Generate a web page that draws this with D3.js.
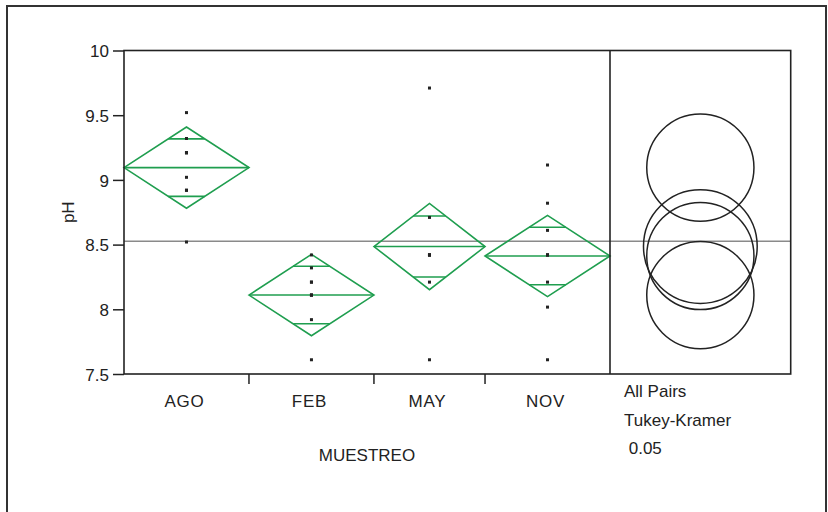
<!DOCTYPE html>
<html>
<head>
<meta charset="utf-8">
<script src="https://cdn.jsdelivr.net/npm/d3@7"></script>
<style>
  html, body { margin: 0; padding: 0; background: #fff; }
  svg { display: block; font-family: "Liberation Sans", Arial, sans-serif; }
</style>
</head>
<body>
<svg id="chart" width="828" height="512"></svg>
<script>
// pH by sampling month (one-way analysis with mean diamonds and Tukey-Kramer circles)
const months = ["AGO", "FEB", "MAY", "NOV"];
const counts = [9, 9, 8, 9];
const groupMeans = [9.095, 8.11, 8.485, 8.412];
const grandMean = 8.526;
const rmse = 0.462;          // pooled standard deviation
const tQuantile = 2.04;      // t(0.975, df = 31)
const tukeyQuantile = 2.69;  // q*(0.05) for all-pairs Tukey-Kramer

const obsAGO = [9.52, 9.32, 9.21, 9.21, 9.21, 9.02, 8.92, 8.92, 8.52];
const obsFEB = [8.42, 8.32, 8.21, 8.21, 8.11, 8.11, 8.11, 7.92, 7.61];
const obsMAY = [9.71, 8.71, 8.42, 8.42, 8.42, 8.42, 8.21, 7.61];
const obsNOV = [9.115, 8.82, 8.61, 8.42, 8.42, 8.42, 8.21, 8.017, 7.61];
const observations = [obsAGO, obsFEB, obsMAY, obsNOV];

const yTicks = [7.5, 8, 8.5, 9, 9.5, 10];
const yTickLabels = ["7.5", "8", "8.5", "9", "9.5", "10"];
const xTitle = "MUESTREO";
const yTitle = "pH";
const panelLines = ["All Pairs", "Tukey-Kramer", " 0.05"];

const green = "#1f9e4f";
const ink = "#222";

const svg = d3.select("#chart");

// layout
const plotLeft = 124, plotTop = 50.5, mainRight = 610, panelRight = 790.7, plotBottom = 374;

const y = d3.scaleLinear().domain([7.5, 10]).range([plotBottom, plotTop]);

// x positions: group widths proportional to sample size
const cum = [0];
counts.forEach((n, i) => cum.push(cum[i] + n));
const x = d3.scaleLinear().domain([0, d3.sum(counts)]).range([plotLeft, mainRight]);

const groups = months.map((m, i) => ({
  name: m,
  n: counts[i],
  mean: groupMeans[i],
  x0: x(cum[i]),
  x1: x(cum[i + 1]),
  xc: (x(cum[i]) + x(cum[i + 1])) / 2,
  se: rmse / Math.sqrt(counts[i]),
  obs: observations[i]
}));

// outer frame
svg.append("rect")
  .attr("x", 7).attr("y", 6).attr("width", 819).attr("height", 520)
  .attr("fill", "none").attr("stroke", "#333").attr("stroke-width", 2);

// grand mean line across both panels
svg.append("line")
  .attr("x1", plotLeft).attr("x2", panelRight)
  .attr("y1", y(grandMean)).attr("y2", y(grandMean))
  .attr("stroke", "#8a8a8a").attr("stroke-width", 1.5);

// mean diamonds
const dg = svg.append("g").attr("fill", "none").attr("stroke", green).attr("stroke-width", 1.6);
groups.forEach(g => {
  const half = tQuantile * g.se;
  const ym = y(g.mean), yt = y(g.mean + half), yb = y(g.mean - half);
  dg.append("path")
    .attr("d", `M${g.x0},${ym}L${g.xc},${yt}L${g.x1},${ym}L${g.xc},${yb}Z`);
  dg.append("line").attr("x1", g.x0).attr("x2", g.x1).attr("y1", ym).attr("y2", ym);
  // overlap marks at mean ± half/√2
  const w = (g.x1 - g.x0) / 2 * (1 - 1 / Math.SQRT2);
  [1, -1].forEach(s => {
    const yy = y(g.mean + s * half / Math.SQRT2);
    dg.append("line").attr("x1", g.xc - w).attr("x2", g.xc + w).attr("y1", yy).attr("y2", yy);
  });
});

// observations
const pg = svg.append("g").attr("fill", ink);
groups.forEach(g => {
  pg.selectAll(null).data(g.obs).enter().append("rect")
    .attr("x", g.xc - 1.5).attr("y", d => y(d) - 1.5)
    .attr("width", 3).attr("height", 3);
});

// comparison circles
const cx = (mainRight + panelRight) / 2;
const unit = y(0) - y(1);
svg.append("g").selectAll("circle").data(groups).enter().append("circle")
  .attr("cx", cx).attr("cy", d => y(d.mean))
  .attr("r", d => tukeyQuantile * d.se * unit)
  .attr("fill", "none").attr("stroke", ink).attr("stroke-width", 1.5);

// plot frame and divider
svg.append("rect")
  .attr("x", plotLeft).attr("y", plotTop).attr("width", panelRight - plotLeft).attr("height", plotBottom - plotTop)
  .attr("fill", "none").attr("stroke", ink).attr("stroke-width", 1.6);
svg.append("line")
  .attr("x1", mainRight).attr("x2", mainRight).attr("y1", plotTop).attr("y2", plotBottom)
  .attr("stroke", ink).attr("stroke-width", 1.6);

// y axis
const yAxis = d3.axisLeft(y).tickValues(yTicks)
  .tickFormat((d, i) => yTickLabels[i]).tickSize(11).tickPadding(4);
const ya = svg.append("g").attr("transform", `translate(${plotLeft},0)`).call(yAxis);
ya.select(".domain").remove();
ya.selectAll("line").attr("stroke", ink).attr("stroke-width", 1.5);
ya.selectAll("text").attr("fill", "#222").style("font-size", "17px")
  .style("font-family", '"Liberation Sans", Arial, sans-serif').attr("dy", "0.36em");

// x axis: ticks at group boundaries
const xg = svg.append("g");
groups.slice(1).forEach(g => {
  xg.append("line").attr("x1", g.x0).attr("x2", g.x0).attr("y1", plotBottom).attr("y2", plotBottom + 10)
    .attr("stroke", ink).attr("stroke-width", 1.5);
});
xg.selectAll("text").data(groups).enter().append("text")
  .attr("x", d => d.xc - 2).attr("y", 407)
  .attr("text-anchor", "middle")
  .style("font-size", "17px").style("letter-spacing", "0.8px")
  .attr("fill", "#222").text(d => d.name);

// axis titles
svg.append("text")
  .attr("x", (plotLeft + mainRight) / 2).attr("y", 461)
  .attr("text-anchor", "middle").style("font-size", "17px").attr("fill", "#222")
  .text(xTitle);
svg.append("text")
  .attr("transform", `translate(74,${(plotTop + plotBottom) / 2}) rotate(-90)`)
  .attr("text-anchor", "middle").style("font-size", "17px").attr("fill", "#222")
  .text(yTitle);

// comparison panel caption
svg.append("g").selectAll("text").data(panelLines).enter().append("text")
  .attr("x", 624).attr("y", (d, i) => 397 + i * 28.5)
  .style("font-size", "17px").style("white-space", "pre").attr("fill", "#222")
  .text(d => d);
</script>
</body>
</html>
